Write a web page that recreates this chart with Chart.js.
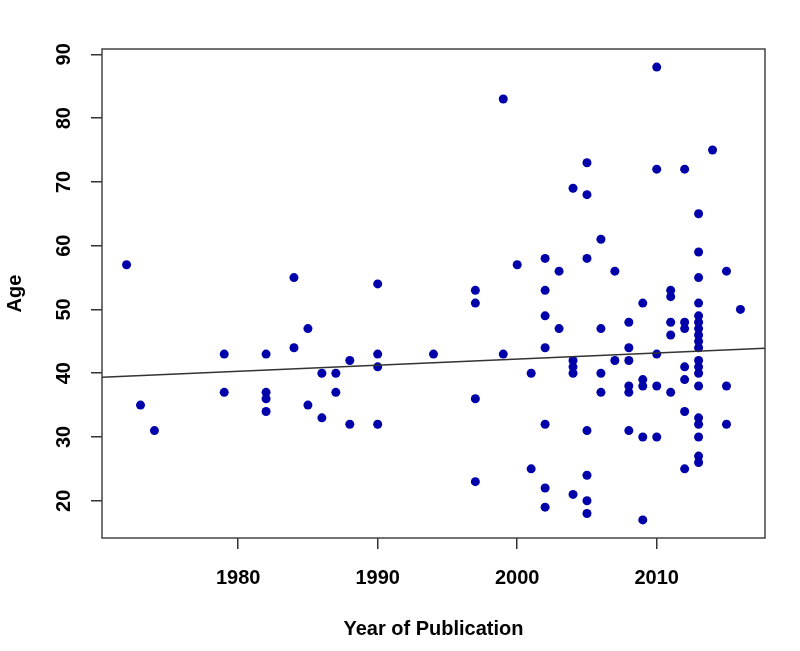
<!DOCTYPE html>
<html>
<head>
<meta charset="utf-8">
<script src="https://cdn.jsdelivr.net/npm/chart.js@4"></script>
<style>
  html, body { margin: 0; padding: 0; background: #fff; }
</style>
</head>
<body>
<canvas id="ageChart" width="800" height="651"></canvas>
<script>
// one entry per paper: year of publication and age
const years = [
  1972, 1973, 1974,
  1979, 1979,
  1982, 1982, 1982, 1982,
  1984, 1984, 1985, 1985, 1986, 1986, 1987, 1987, 1988, 1988,
  1990, 1990, 1990, 1990,
  1994,
  1997, 1997, 1997, 1997,
  1999, 1999, 2000, 2001, 2001,
  2002, 2002, 2002, 2002, 2002, 2002, 2002,
  2003, 2003,
  2004, 2004, 2004, 2004, 2004,
  2005, 2005, 2005, 2005, 2005, 2005, 2005,
  2006, 2006, 2006, 2006,
  2007, 2007,
  2008, 2008, 2008, 2008, 2008, 2008,
  2009, 2009, 2009, 2009, 2009,
  2010, 2010, 2010, 2010, 2010,
  2011, 2011, 2011, 2011, 2011,
  2012, 2012, 2012, 2012, 2012, 2012, 2012,
  2013, 2013, 2013, 2013, 2013, 2013, 2013, 2013, 2013, 2013,
  2013, 2013, 2013, 2013, 2013, 2013, 2013, 2013, 2013,
  2014,
  2015, 2015, 2015,
  2016
];
const ages = [
  57, 35, 31,
  43, 37,
  43, 37, 36, 34,
  55, 44, 47, 35, 40, 33, 40, 37, 42, 32,
  54, 43, 41, 32,
  43,
  53, 51, 36, 23,
  83, 43, 57, 40, 25,
  58, 53, 49, 44, 32, 22, 19,
  56, 47,
  69, 42, 41, 40, 21,
  73, 68, 58, 31, 24, 20, 18,
  61, 47, 40, 37,
  56, 42,
  48, 44, 42, 38, 37, 31,
  51, 39, 38, 30, 17,
  88, 72, 43, 38, 30,
  53, 52, 48, 46, 37,
  72, 48, 47, 41, 39, 34, 25,
  65, 59, 55, 51, 49, 48, 47, 46, 45, 44,
  42, 41, 40, 38, 33, 32, 30, 27, 26,
  75,
  56, 38, 32,
  50
];
const xTicks = [1980, 1990, 2000, 2010];
const yTicks = [20, 30, 40, 50, 60, 70, 80, 90];

// trend line: age at 1980 and change per year
const fitAt1980 = 40.3;
const fitSlope = 0.096;

const points = years.map((y, i) => ({ x: y, y: ages[i] }));

// R style axis range: data range plus 4% on each side
function padRange(vals) {
  const lo = Math.min(...vals), hi = Math.max(...vals);
  const d = (hi - lo) * 0.04;
  return [lo - d, hi + d];
}
const [xMin, xMax] = padRange(years);
const [yMin, yMax] = padRange(ages);

const fit = x => fitAt1980 + fitSlope * (x - 1980);

const axisFont = { family: "'Liberation Sans', Arial, sans-serif", size: 20, weight: 'bold' };

const boxPlugin = {
  id: 'box',
  afterDatasetsDraw(chart) {
    const { ctx, chartArea: a } = chart;
    ctx.save();
    ctx.strokeStyle = '#444';
    ctx.lineWidth = 1.5;
    ctx.strokeRect(a.left, a.top, a.right - a.left, a.bottom - a.top);
    ctx.restore();
  }
};

new Chart(document.getElementById('ageChart').getContext('2d'), {
  type: 'scatter',
  data: {
    datasets: [{
      type: 'line',
      label: 'fit',
      data: [{ x: xMin, y: fit(xMin) }, { x: xMax, y: fit(xMax) }],
      borderColor: '#333',
      borderWidth: 1.5,
      pointRadius: 0
    }, {
      label: 'Age',
      data: points,
      backgroundColor: '#0000aa',
      borderWidth: 0,
      pointRadius: 4.5
    }]
  },
  options: {
    responsive: false,
    animation: false,
    layout: { padding: { top: 49, right: 35, left: 0, bottom: 0 } },
    plugins: {
      legend: { display: false },
      tooltip: { enabled: false }
    },
    scales: {
      x: {
        type: 'linear',
        min: xMin,
        max: xMax,
        afterBuildTicks: s => { s.ticks = xTicks.map(v => ({ value: v })); },
        afterFit: s => { s.height = 113; },
        border: { display: false },
        grid: { drawOnChartArea: false, tickLength: 11, color: '#333', lineWidth: 1.5 },
        ticks: { font: axisFont, color: '#000', padding: 17, maxRotation: 0, callback: v => String(v) },
        title: { display: true, text: 'Year of Publication', font: axisFont, color: '#000', padding: { top: 0, bottom: 10 } }
      },
      y: {
        min: yMin,
        max: yMax,
        afterBuildTicks: s => { s.ticks = yTicks.map(v => ({ value: v })); },
        afterFit: s => { s.width = 102; },
        border: { display: false },
        grid: { drawOnChartArea: false, tickLength: 11, color: '#333', lineWidth: 1.5 },
        ticks: { font: axisFont, color: '#000', padding: 15, minRotation: 90, maxRotation: 90, crossAlign: 'center' },
        title: { display: true, text: 'Age', font: axisFont, color: '#000', padding: { top: 3, bottom: 0 } }
      }
    }
  },
  plugins: [boxPlugin]
});
</script>
</body>
</html>
